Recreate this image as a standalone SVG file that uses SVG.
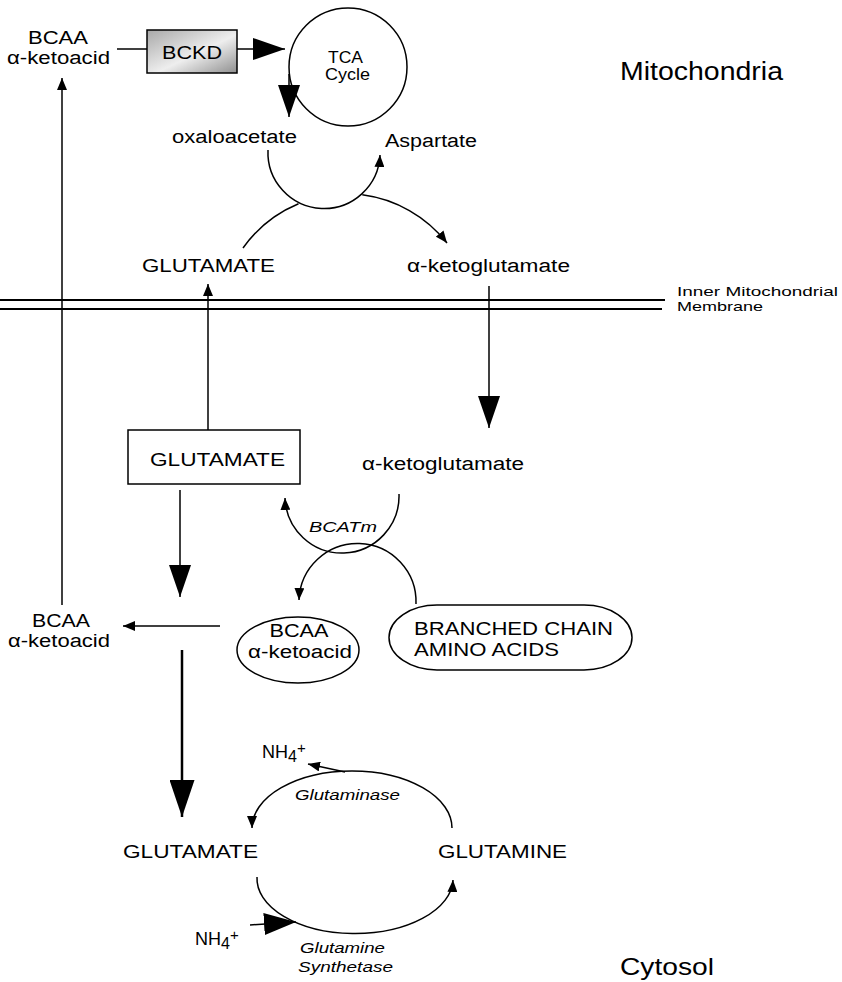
<svg xmlns="http://www.w3.org/2000/svg" width="842" height="982" viewBox="0 0 842 982">
<style>
text{font-family:"Liberation Sans",Arial,sans-serif;font-size:18px;fill:#000}
.it{font-style:italic;font-size:15px}
.ln{fill:none;stroke:#000;stroke-width:1.5}
.thick{fill:none;stroke:#000;stroke-width:2.5}
.node{fill:#fff;stroke:#000;stroke-width:1.5}
</style>
<defs>
<marker id="sm" viewBox="0 0 12 10" refX="12" refY="5" markerWidth="12" markerHeight="10" markerUnits="userSpaceOnUse" orient="auto"><path d="M0,0 L12,5 L0,10 z" fill="#000"/></marker>
<marker id="bg" viewBox="0 0 32 22" refX="32" refY="11" markerWidth="32" markerHeight="22" markerUnits="userSpaceOnUse" orient="auto"><path d="M0,0 L32,11 L0,22 z" fill="#000"/></marker>
<marker id="bg2" viewBox="0 0 37 25" refX="37" refY="12.5" markerWidth="37" markerHeight="25" markerUnits="userSpaceOnUse" orient="auto"><path d="M0,0 L37,12.5 L0,25 z" fill="#000"/></marker>
<linearGradient id="gr" x1="0" y1="0" x2="1" y2="1"><stop offset="0" stop-color="#a8a8a8"/><stop offset="0.55" stop-color="#eeeeee"/><stop offset="1" stop-color="#8f8f8f"/></linearGradient>
</defs>
<rect width="842" height="982" fill="#fff"/>

<g id="labels">
<text x="620" y="80" style="font-size:25px" textLength="163" lengthAdjust="spacingAndGlyphs">Mitochondria</text>
<text x="620" y="975" style="font-size:24px" textLength="94" lengthAdjust="spacingAndGlyphs">Cytosol</text>
<text x="677" y="296" style="font-size:13px" textLength="161" lengthAdjust="spacingAndGlyphs">Inner Mitochondrial</text>
<text x="677" y="311" style="font-size:13px" textLength="86" lengthAdjust="spacingAndGlyphs">Membrane</text>
</g>

<g id="membrane">
<line x1="0" y1="300" x2="665" y2="300" stroke="#000" stroke-width="2"/>
<line x1="0" y1="309" x2="662" y2="309" stroke="#000" stroke-width="2"/>
</g>

<g id="bcaa-ketoacid-mito">
<text x="28" y="44" textLength="60" lengthAdjust="spacingAndGlyphs">BCAA</text>
<text x="7" y="64" textLength="103" lengthAdjust="spacingAndGlyphs">α-ketoacid</text>
</g>

<g id="bckd">
<rect x="147" y="30" width="90" height="43" fill="url(#gr)" stroke="#000" stroke-width="1.5"/>
<text x="162" y="59" style="font-size:19px" textLength="60" lengthAdjust="spacingAndGlyphs">BCKD</text>
</g>

<g id="tca">
<circle cx="348" cy="67" r="59" class="node"/>
<text x="328" y="63" style="font-size:16px" textLength="35" lengthAdjust="spacingAndGlyphs">TCA</text>
<text x="325" y="80" style="font-size:16px" textLength="45" lengthAdjust="spacingAndGlyphs">Cycle</text>
</g>

<g id="oxaloacetate"><text x="172" y="143" textLength="125" lengthAdjust="spacingAndGlyphs">oxaloacetate</text></g>
<g id="aspartate"><text x="385" y="147" textLength="92" lengthAdjust="spacingAndGlyphs">Aspartate</text></g>
<g id="glutamate-mito"><text x="142" y="272" textLength="133" lengthAdjust="spacingAndGlyphs">GLUTAMATE</text></g>
<g id="akg-mito"><text x="407" y="272" textLength="163" lengthAdjust="spacingAndGlyphs">α-ketoglutamate</text></g>

<g id="glutamate-box">
<rect x="128" y="430" width="172" height="54" class="node"/>
<text x="150" y="466" textLength="135" lengthAdjust="spacingAndGlyphs">GLUTAMATE</text>
</g>
<g id="akg-cyto"><text x="362" y="470" textLength="162" lengthAdjust="spacingAndGlyphs">α-ketoglutamate</text></g>
<g id="bcatm"><text x="343" y="532" text-anchor="middle" class="it" textLength="68" lengthAdjust="spacingAndGlyphs">BCATm</text></g>

<g id="bcaa-ketoacid-cyto-oval">
<ellipse cx="298" cy="650" rx="61" ry="33" class="node"/>
<text x="299" y="637" text-anchor="middle" textLength="59" lengthAdjust="spacingAndGlyphs">BCAA</text>
<text x="300" y="658" text-anchor="middle" textLength="104" lengthAdjust="spacingAndGlyphs">α-ketoacid</text>
</g>

<g id="bcaa">
<rect x="389" y="605" width="243" height="65" rx="48" ry="32.5" class="node"/>
<text x="414" y="635" textLength="199" lengthAdjust="spacingAndGlyphs">BRANCHED CHAIN</text>
<text x="414" y="656" textLength="145" lengthAdjust="spacingAndGlyphs">AMINO ACIDS</text>
</g>

<g id="bcaa-ketoacid-cyto">
<text x="32" y="627" textLength="58" lengthAdjust="spacingAndGlyphs">BCAA</text>
<text x="8" y="647" textLength="102" lengthAdjust="spacingAndGlyphs">α-ketoacid</text>
</g>

<g id="glutamate-cyto"><text x="123" y="858" textLength="135" lengthAdjust="spacingAndGlyphs">GLUTAMATE</text></g>
<g id="glutamine"><text x="438" y="858" textLength="129" lengthAdjust="spacingAndGlyphs">GLUTAMINE</text></g>
<g id="glutaminase"><text x="295" y="800" class="it" textLength="105" lengthAdjust="spacingAndGlyphs">Glutaminase</text></g>
<g id="glutamine-synthetase">
<text x="300" y="953" class="it" textLength="85" lengthAdjust="spacingAndGlyphs">Glutamine</text>
<text x="298" y="972" class="it" textLength="95" lengthAdjust="spacingAndGlyphs">Synthetase</text>
</g>
<g id="nh4-top"><text x="262" y="758">NH<tspan dy="4" style="font-size:16px">4</tspan><tspan dy="-9" style="font-size:15px">+</tspan></text></g>
<g id="nh4-bottom"><text x="195" y="945">NH<tspan dy="4" style="font-size:16px">4</tspan><tspan dy="-9" style="font-size:15px">+</tspan></text></g>

<g id="connectors">
<line x1="117" y1="49" x2="147" y2="49" class="ln"/>
<line x1="237" y1="49" x2="285" y2="49" class="ln" marker-end="url(#bg)"/>
<path d="M289,74 L289,117" class="ln" marker-end="url(#bg)"/>
<path d="M268,150 A56,56 0 0 0 380,155" class="ln" marker-end="url(#sm)"/>
<path d="M243,248 A129,129 0 0 1 298.5,203.8" class="ln"/>
<path d="M362.3,194.8 A129,129 0 0 1 447,243" class="ln" marker-end="url(#sm)"/>
<line x1="208" y1="430" x2="208" y2="284" class="ln" marker-end="url(#sm)"/>
<line x1="489" y1="286" x2="489" y2="428" class="ln" marker-end="url(#bg)"/>
<line x1="62" y1="605" x2="62" y2="78" class="ln" marker-end="url(#sm)"/>
<line x1="180" y1="490" x2="180" y2="597" class="ln" marker-end="url(#bg)"/>
<path d="M399,494 A57,57 0 0 1 285,498" class="ln" marker-end="url(#sm)"/>
<path d="M416,604 A58,58 0 0 0 299,600" class="ln" marker-end="url(#sm)"/>
<line x1="220" y1="626" x2="123" y2="626" class="ln" marker-end="url(#sm)"/>
<line x1="182" y1="650" x2="182" y2="817" class="thick" marker-end="url(#bg2)"/>
<path d="M452,828 A100,57 0 0 0 252,828" class="ln" marker-end="url(#sm)"/>
<line x1="345" y1="772" x2="308" y2="764" class="ln" marker-end="url(#sm)"/>
<path d="M257,877 A98,55 0 0 0 453,880" class="ln" marker-end="url(#sm)"/>
<line x1="250" y1="925" x2="296" y2="922" class="ln" marker-end="url(#bg)"/>
</g>
</svg>
